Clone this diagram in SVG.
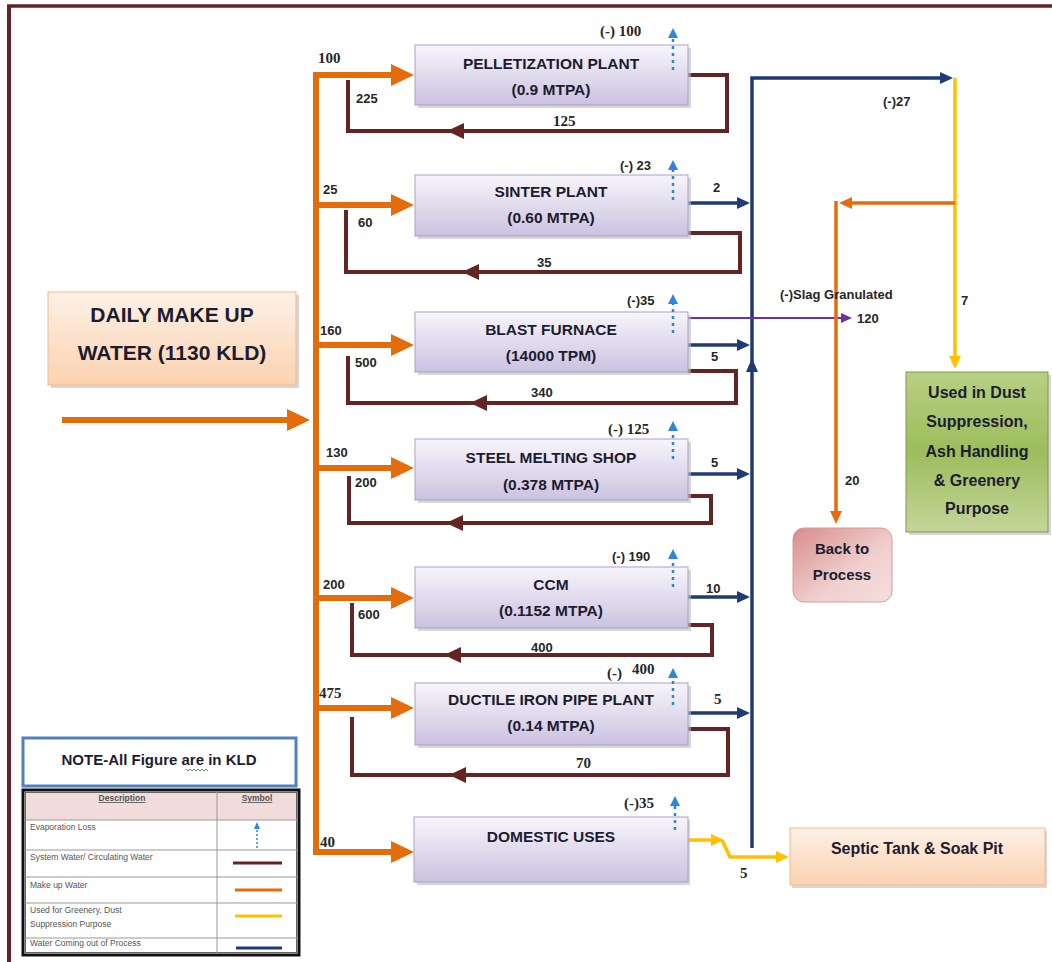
<svg xmlns="http://www.w3.org/2000/svg" width="1052" height="962" viewBox="0 0 1052 962">
<defs>
<linearGradient id="gLav" x1="0" y1="0" x2="0" y2="1"><stop offset="0" stop-color="#f7f5fb"/><stop offset="1" stop-color="#cbc2e0"/></linearGradient>
<linearGradient id="gPeach" x1="0" y1="0" x2="0" y2="1"><stop offset="0" stop-color="#fef1e6"/><stop offset="1" stop-color="#fbd2b0"/></linearGradient>
<linearGradient id="gGreen" x1="0" y1="0" x2="0" y2="1"><stop offset="0" stop-color="#b8cf84"/><stop offset="0.5" stop-color="#9dbd5c"/><stop offset="1" stop-color="#c3d69b"/></linearGradient>
<linearGradient id="gPink" x1="0" y1="0" x2="1" y2="1"><stop offset="0" stop-color="#d88c8b"/><stop offset="0.6" stop-color="#f0d0cf"/><stop offset="1" stop-color="#f5dede"/></linearGradient>
<marker id="mOr" markerUnits="userSpaceOnUse" markerWidth="24" markerHeight="22" refX="4" refY="11" orient="auto"><path d="M0,0 L23,11 L0,22 z" fill="#e46c0a"/></marker>
<marker id="mOrS" markerUnits="userSpaceOnUse" markerWidth="14" markerHeight="12" refX="3" refY="6" orient="auto"><path d="M0,0 L13,6 L0,12 z" fill="#e46c0a"/></marker>
<marker id="mBl" markerUnits="userSpaceOnUse" markerWidth="14" markerHeight="12" refX="3" refY="6" orient="auto"><path d="M0,0 L13,6 L0,12 z" fill="#1f3a77"/></marker>
<marker id="mYe" markerUnits="userSpaceOnUse" markerWidth="14" markerHeight="12" refX="3" refY="6" orient="auto"><path d="M0,0 L13,6 L0,12 z" fill="#ffc000"/></marker>
<marker id="mPu" markerUnits="userSpaceOnUse" markerWidth="12" markerHeight="10" refX="2" refY="5" orient="auto"><path d="M0,0 L11,5 L0,10 z" fill="#7030a0"/></marker>
<marker id="mEv" markerUnits="userSpaceOnUse" markerWidth="10" markerHeight="10" refX="2" refY="5" orient="auto"><path d="M0,0 L10,5 L0,10 z" fill="#2e86d6"/></marker>
</defs>
<style>
.box{fill:url(#gLav);stroke:#ab9fcb;stroke-width:1}
.shd{fill:#bdbdbd;opacity:0.6}
.bt{font-family:"Liberation Sans",Arial,sans-serif;font-weight:bold;font-size:15.5px;fill:#1c1c30;text-anchor:middle}
.lb{font-family:"Liberation Sans",Arial,sans-serif;font-weight:bold;font-size:13px;fill:#262626}
.ls{font-family:"Liberation Serif","Times New Roman",serif;font-weight:bold;font-size:15px;fill:#262626}
.ev{font-family:"Liberation Serif","Times New Roman",serif;font-weight:bold;font-size:15px;fill:#262626}
.or{stroke:#e46c0a;stroke-width:6;fill:none}
.orn{stroke:#e46c0a;stroke-width:3.5;fill:none}
.br{stroke:#632523;stroke-width:4;fill:none}
.bl{stroke:#1f3a77;stroke-width:3.5;fill:none}
.ye{stroke:#ffc000;stroke-width:3.5;fill:none}
.pu{stroke:#7030a0;stroke-width:2.2;fill:none}
.evp{stroke:#2e86d6;stroke-width:2.5;stroke-dasharray:3 4;fill:none}
.lg{font-family:"Liberation Sans",Arial,sans-serif;font-size:8.5px;fill:#555}
</style>
<rect width="1052" height="962" fill="#ffffff"/>
<g id="frame">
<path d="M7,6 H1052" stroke="#632523" stroke-width="3.5" fill="none"/>
<path d="M9,5 V962" stroke="#632523" stroke-width="4" fill="none"/>
</g>

<g id="connectors">
<!-- make up water -->
<path class="or" d="M62,420 H291" marker-end="url(#mOr)"/>
<path class="or" d="M316,852 V75 H395" marker-end="url(#mOr)"/>
<path class="or" d="M316,205 H395" marker-end="url(#mOr)"/>
<path class="or" d="M316,345 H395" marker-end="url(#mOr)"/>
<path class="or" d="M316,468 H395" marker-end="url(#mOr)"/>
<path class="or" d="M316,598 H395" marker-end="url(#mOr)"/>
<path class="or" d="M316,708 H395" marker-end="url(#mOr)"/>
<path class="or" d="M313,852 H395" marker-end="url(#mOr)"/>
<!-- circulating -->
<path class="br" d="M688,75 H727 V131 H348 V80"/>
<polygon points="447,131 464,123 464,139" fill="#632523"/>
<path class="br" d="M688,233 H740 V272 H346 V210"/>
<polygon points="462,272 479,264 479,280" fill="#632523"/>
<path class="br" d="M688,371 H736 V403 H348 V356"/>
<polygon points="470,403 487,395 487,411" fill="#632523"/>
<path class="br" d="M688,496 H711 V523 H349 V476"/>
<polygon points="446,523 463,515 463,531" fill="#632523"/>
<path class="br" d="M688,625 H712 V655 H352 V603"/>
<polygon points="444,655 461,647 461,663" fill="#632523"/>
<path class="br" d="M688,729 H728 V775 H352 V717"/>
<polygon points="449,775 466,767 466,783" fill="#632523"/>
<!-- water out of process -->
<path class="bl" d="M752,848 V78 H943" marker-end="url(#mBl)"/>
<path class="bl" d="M688,203 H740" marker-end="url(#mBl)"/>
<path class="bl" d="M688,345 H740" marker-end="url(#mBl)"/>
<path class="bl" d="M688,474 H740" marker-end="url(#mBl)"/>
<path class="bl" d="M688,597 H740" marker-end="url(#mBl)"/>
<path class="bl" d="M688,713 H740" marker-end="url(#mBl)"/>
<polygon points="752,358 746,372 758,372" fill="#1f3a77"/>
<!-- slag -->
<path class="pu" d="M688,318 H843" marker-end="url(#mPu)"/>
<!-- greenery -->
<path class="ye" d="M955,78 V359" marker-end="url(#mYe)"/>
<path class="orn" d="M955,203 H849" marker-end="url(#mOrS)"/>
<path class="orn" d="M836,201 V514" marker-end="url(#mOrS)"/>
<!-- domestic -->
<path class="ye" d="M688,840 H714" marker-end="url(#mYe)"/>
<path class="ye" d="M722,840 L730,857 H779" marker-end="url(#mYe)"/>
</g>

<g id="labels">
<text class="ls" x="318" y="63">100</text>
<text class="lb" x="356" y="103">225</text>
<text class="ls" x="553" y="126">125</text>
<text class="lb" x="323" y="194">25</text>
<text class="lb" x="358" y="227">60</text>
<text class="lb" x="537" y="267">35</text>
<text class="lb" x="320" y="335">160</text>
<text class="lb" x="355" y="367">500</text>
<text class="lb" x="531" y="397">340</text>
<text class="lb" x="326" y="457">130</text>
<text class="lb" x="355" y="487">200</text>
<text class="lb" x="323" y="589">200</text>
<text class="lb" x="358" y="619">600</text>
<text class="lb" x="531" y="652">400</text>
<text class="ls" x="319" y="698">475</text>
<text class="ls" x="576" y="768">70</text>
<text class="ls" x="320" y="847">40</text>
<text class="lb" x="713" y="192">2</text>
<text class="lb" x="711" y="361">5</text>
<text class="lb" x="711" y="467">5</text>
<text class="lb" x="706" y="593">10</text>
<text class="ls" x="714" y="704">5</text>
<text class="ls" x="740" y="878">5</text>
<text class="ev" x="600" y="36">(-) 100</text>
<text class="lb" x="620" y="170">(-) 23</text>
<text class="lb" x="627" y="305">(-)35</text>
<text class="ev" x="608" y="434">(-) 125</text>
<text class="lb" x="612" y="561">(-) 190</text>
<text class="ev" x="607" y="678">(-)</text>
<text class="ev" x="632" y="674">400</text>
<text class="ev" x="624" y="808">(-)35</text>
<text class="lb" x="883" y="106">(-)27</text>
<text class="lb" x="780" y="299">(-)Slag Granulated</text>
<text class="lb" x="857" y="323">120</text>
<text class="lb" x="961" y="305">7</text>
<text class="lb" x="845" y="485">20</text>
</g>

<g id="daily-makeup">
<rect x="51" y="295" width="248" height="93" class="shd"/>
<rect x="48" y="292" width="248" height="93" fill="url(#gPeach)" stroke="#f6b98a" stroke-width="1"/>
<text x="172" y="322" font-family="Liberation Sans, Arial, sans-serif" font-weight="bold" font-size="21" fill="#1c1c30" text-anchor="middle">DAILY MAKE UP</text>
<text x="172" y="360" font-family="Liberation Sans, Arial, sans-serif" font-weight="bold" font-size="21" fill="#1c1c30" text-anchor="middle">WATER (1130 KLD)</text>
</g>

<g id="pelletization">
<rect x="418" y="48" width="273" height="60" class="shd"/>
<rect x="415" y="45" width="273" height="60" class="box"/>
<text class="bt" x="551" y="69">PELLETIZATION PLANT</text>
<text class="bt" x="551" y="95">(0.9 MTPA)</text>
</g>
<g id="sinter">
<rect x="418" y="178" width="273" height="61" class="shd"/>
<rect x="415" y="175" width="273" height="61" class="box"/>
<text class="bt" x="551" y="197">SINTER PLANT</text>
<text class="bt" x="551" y="223">(0.60 MTPA)</text>
</g>
<g id="blast-furnace">
<rect x="418" y="315" width="273" height="60" class="shd"/>
<rect x="415" y="312" width="273" height="60" class="box"/>
<text class="bt" x="551" y="335">BLAST FURNACE</text>
<text class="bt" x="551" y="361">(14000 TPM)</text>
</g>
<g id="sms">
<rect x="418" y="442" width="273" height="61" class="shd"/>
<rect x="415" y="439" width="273" height="61" class="box"/>
<text class="bt" x="551" y="463">STEEL MELTING SHOP</text>
<text class="bt" x="551" y="490">(0.378 MTPA)</text>
</g>
<g id="ccm">
<rect x="418" y="570" width="273" height="61" class="shd"/>
<rect x="415" y="567" width="273" height="61" class="box"/>
<text class="bt" x="551" y="590">CCM</text>
<text class="bt" x="551" y="616">(0.1152 MTPA)</text>
</g>
<g id="dip">
<rect x="418" y="686" width="273" height="62" class="shd"/>
<rect x="415" y="683" width="273" height="62" class="box"/>
<text class="bt" x="551" y="705">DUCTILE IRON PIPE PLANT</text>
<text class="bt" x="551" y="731">(0.14 MTPA)</text>
</g>
<g id="domestic">
<rect x="417" y="820" width="273" height="65" class="shd"/>
<rect x="414" y="817" width="274" height="65" class="box"/>
<text class="bt" x="551" y="842">DOMESTIC USES</text>
</g>

<g id="evaporation">
<path class="evp" d="M673,70 V36" marker-end="url(#mEv)"/>
<path class="evp" d="M673,200 V168" marker-end="url(#mEv)"/>
<path class="evp" d="M673,333 V302" marker-end="url(#mEv)"/>
<path class="evp" d="M673,459 V429" marker-end="url(#mEv)"/>
<path class="evp" d="M673,587 V557" marker-end="url(#mEv)"/>
<path class="evp" d="M673,705 V676" marker-end="url(#mEv)"/>
<path class="evp" d="M675,830 V804" marker-end="url(#mEv)"/>
</g>

<g id="green-use">
<rect x="909" y="375" width="142" height="160" class="shd"/>
<rect x="906" y="372" width="142" height="160" fill="url(#gGreen)" stroke="#7f9a48" stroke-width="1"/>
<g font-family="Liberation Sans, Arial, sans-serif" font-weight="bold" font-size="16" fill="#1c1c30" text-anchor="middle">
<text x="977" y="398">Used in Dust</text>
<text x="977" y="427">Suppression,</text>
<text x="977" y="457">Ash Handling</text>
<text x="977" y="486">&amp; Greenery</text>
<text x="977" y="514">Purpose</text>
</g>
</g>

<g id="back-to-process">
<rect x="793" y="528" width="99" height="74" rx="11" fill="url(#gPink)" stroke="#d99a99" stroke-width="1"/>
<g font-family="Liberation Sans, Arial, sans-serif" font-weight="bold" font-size="15" fill="#1c1c30" text-anchor="middle">
<text x="842" y="554">Back to</text>
<text x="842" y="580">Process</text>
</g>
</g>

<g id="septic">
<rect x="792" y="831" width="255" height="57" class="shd"/>
<rect x="790" y="828" width="255" height="57" fill="url(#gPeach)" stroke="#f6b98a" stroke-width="1"/>
<text x="917" y="854" font-family="Liberation Sans, Arial, sans-serif" font-weight="bold" font-size="16" fill="#1c1c30" text-anchor="middle">Septic Tank &amp; Soak Pit</text>
</g>

<g id="note">
<rect x="23" y="738" width="273" height="48" fill="#ffffff" stroke="#4f81bd" stroke-width="3"/>
<text x="159" y="765" font-family="Liberation Sans, Arial, sans-serif" font-weight="bold" font-size="15" fill="#1c1c30" text-anchor="middle">NOTE-All Figure are in KLD</text>
<path d="M186,769 l2,2 l2,-2 l2,2 l2,-2 l2,2 l2,-2 l2,2 l2,-2 l2,2 l2,-2 l2,2" stroke="#5aa23a" stroke-width="1" fill="none"/>
</g>

<g id="legend">
<rect x="23" y="790" width="276" height="165" fill="#ffffff" stroke="#111" stroke-width="3"/>
<rect x="25" y="792" width="272" height="28" fill="#f2dcdb"/>
<rect x="25.5" y="792.5" width="271" height="160" fill="none" stroke="#666" stroke-width="1"/>
<g stroke="#999" stroke-width="1">
<path d="M217,792 V953"/>
<path d="M25,820 H297"/>
<path d="M25,850 H297"/>
<path d="M25,877 H297"/>
<path d="M25,903 H297"/>
<path d="M25,938 H297"/>
</g>
<text class="lg" x="122" y="801" text-anchor="middle" text-decoration="underline" font-weight="bold">Description</text>
<text class="lg" x="257" y="801" text-anchor="middle" text-decoration="underline" font-weight="bold">Symbol</text>
<text class="lg" x="30" y="830">Evaporation Loss</text>
<text class="lg" x="30" y="860">System Water/ Circulating Water</text>
<text class="lg" x="30" y="888">Make up Water</text>
<text class="lg" x="30" y="913">Used for Greenery, Dust</text>
<text class="lg" x="30" y="927">Suppression Purpose</text>
<text class="lg" x="30" y="946">Water Coming out of Process</text>
<path d="M257,848 V829" stroke="#2e86d6" stroke-width="1.5" stroke-dasharray="2 2" fill="none"/>
<polygon points="257,822 254,829 260,829" fill="#2e86d6"/>
<path d="M233,863 H282" stroke="#632523" stroke-width="3"/>
<path d="M235,890 H282" stroke="#e46c0a" stroke-width="3"/>
<path d="M235,916 H282" stroke="#ffc000" stroke-width="3"/>
<path d="M236,948 H282" stroke="#1f3a77" stroke-width="3"/>
</g>
</svg>
